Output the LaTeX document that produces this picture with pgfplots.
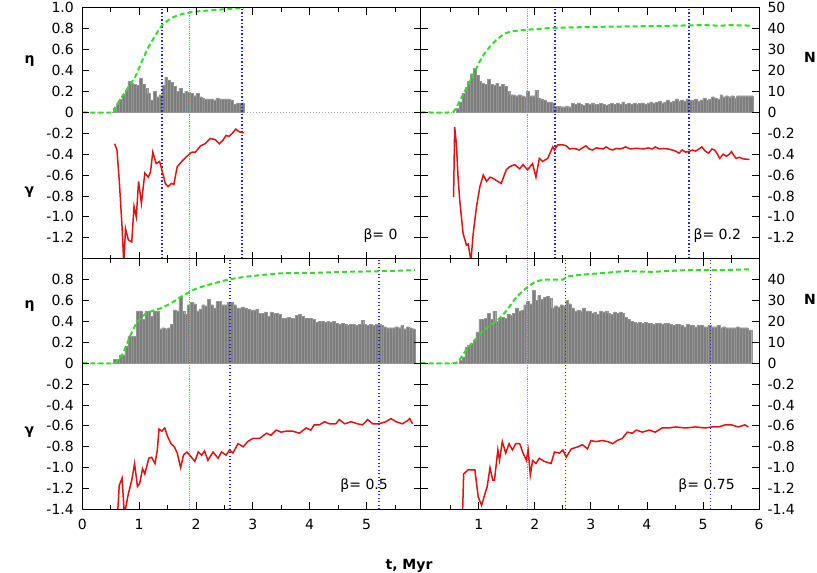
\documentclass[border=0pt]{standalone}
\usepackage{fontspec}
\setmainfont{DejaVu Sans}
\usepackage{pgfplots}
\pgfplotsset{compat=1.18}
\definecolor{cgreen}{RGB}{50,220,40}
\definecolor{cred}{RGB}{220,20,20}
\definecolor{cblue}{RGB}{40,40,200}
\definecolor{cmag}{RGB}{225,110,225}
\definecolor{cbar}{RGB}{125,125,125}
\definecolor{cbarl}{RGB}{150,150,150}
\pgfplotsset{
  panel/.style={scale only axis, height=250.8pt, ymin=-1.4, ymax=1.0,
    axis on top, clip=true,
    axis line style={line width=1pt},
    every tick/.style={black, line width=0.8pt},
    tick align=inside, xtick pos=both, ytick pos=both,
    major tick length=7pt, minor tick length=4pt,
    minor xtick={0.5,1.5,2.5,3.5,4.5,5.5},
    ytick={-1.4,-1.2,-1,-0.8,-0.6,-0.4,-0.2,0,0.2,0.4,0.6,0.8,1},
    xticklabel style={yshift=-6pt},
  },
  leftp/.style={panel, width=338.2pt, xmin=0, xmax=5.95, xtick={0,1,2,3,4,5},
    yticklabel pos=left, yticklabel style={xshift=-5pt}},
  rightp/.style={panel, width=338.5pt, xmin=-0.04, xmax=6, xtick={1,2,3,4,5,6},
    yticklabel pos=right, yticklabel style={xshift=5pt}},
  zeroline/.style={color=gray!70, line width=0.8pt, dash pattern=on 1pt off 2pt},
  bars/.style={ybar interval, fill=cbar, draw=cbarl, line width=0.2pt},
  vblue/.style={color=cblue, line width=1.3pt, dash pattern=on 1.3pt off 2.2pt},
  vmag/.style={color=cmag, line width=1.2pt, dash pattern=on 1.2pt off 1pt},
  gline/.style={color=cgreen, line width=2pt, dash pattern=on 5pt off 3pt, smooth, tension=0.4},
  rline/.style={color=cred, line width=1.5pt},
}
\begin{document}
\begin{tikzpicture}[font=\fontsize{14}{17}\selectfont]
\useasboundingbox (0,0) rectangle (817pt,573pt);

% ---------- top left, beta = 0
\begin{axis}[leftp, at={(82.3pt,314.3pt)}, anchor=south west,
  xticklabels={},
  yticklabels={{},-1.2,-1.0,-0.8,-0.6,-0.4,-0.2,0,0.2,0.4,0.6,0.8,1.0}]
\addplot[zeroline] coordinates {(0,0)(6,0)};
\addplot[bars] coordinates {(0.55,0.04)(0.60,0.08)(0.65,0.13)(0.70,0.17)(0.75,0.21)(0.80,0.30)(0.85,0.28)(0.90,0.27)(0.95,0.26)(1.00,0.33)(1.05,0.27)(1.10,0.23)(1.15,0.18)(1.20,0.12)(1.25,0.20)(1.30,0.15)(1.35,0.17)(1.40,0.26)(1.45,0.34)(1.50,0.31)(1.55,0.29)(1.60,0.25)(1.65,0.20)(1.70,0.23)(1.75,0.18)(1.80,0.20)(1.85,0.19)(1.90,0.18)(1.95,0.16)(2.00,0.18)(2.05,0.15)(2.10,0.14)(2.15,0.13)(2.20,0.13)(2.25,0.13)(2.30,0.12)(2.35,0.14)(2.40,0.13)(2.45,0.13)(2.50,0.13)(2.55,0.13)(2.60,0.12)(2.65,0.08)(2.70,0.09)(2.75,0.09)(2.80,0.09)(2.85,0)};
\addplot[vmag] coordinates {(1.89,-1.4)(1.89,1.0)};
\addplot[vblue] coordinates {(1.40,-1.4)(1.40,1.0)};
\addplot[vblue] coordinates {(2.81,-1.4)(2.81,1.0)};
\addplot[gline] coordinates {(0,0)(0.53,0)(0.58,0.05)(0.70,0.15)(0.82,0.25)(0.94,0.35)(1.05,0.49)(1.17,0.63)(1.29,0.74)(1.40,0.83)(1.52,0.885)(1.64,0.92)(1.75,0.94)(1.93,0.96)(2.10,0.97)(2.34,0.98)(2.57,0.99)(2.84,1.0)};
\addplot[rline] coordinates {(0.57,-0.30)(0.61,-0.36)(0.65,-0.65)(0.70,-1.10)(0.73,-1.45)(0.76,-1.11)(0.81,-1.22)(0.87,-1.24)(0.91,-0.90)(0.95,-1.00)(0.99,-0.66)(1.04,-0.87)(1.10,-0.58)(1.16,-0.62)(1.20,-0.57)(1.24,-0.38)(1.30,-0.49)(1.36,-0.47)(1.40,-0.55)(1.46,-0.68)(1.51,-0.71)(1.57,-0.68)(1.61,-0.69)(1.67,-0.52)(1.75,-0.47)(1.84,-0.42)(1.93,-0.38)(1.99,-0.38)(2.08,-0.32)(2.16,-0.30)(2.25,-0.25)(2.34,-0.26)(2.41,-0.30)(2.47,-0.27)(2.53,-0.22)(2.58,-0.23)(2.64,-0.20)(2.70,-0.16)(2.76,-0.185)(2.84,-0.195)};
\node[anchor=base west] at (axis cs:4.886,-1.212) {β= 0};
\end{axis}

% ---------- top right, beta = 0.2
\begin{axis}[rightp, at={(420.5pt,314.3pt)}, anchor=south west,
  xticklabels={},
  yticklabels={{},-1.2,-1.0,-0.8,-0.6,-0.4,-0.2,0,10,20,30,40,50}]
\addplot[zeroline] coordinates {(-0.04,0)(6,0)};
\addplot[bars] coordinates {(0.60,0.04)(0.65,0.10)(0.70,0.18)(0.75,0.24)(0.80,0.30)(0.85,0.37)(0.90,0.42)(0.95,0.36)(1.00,0.30)(1.05,0.28)(1.10,0.27)(1.15,0.32)(1.20,0.27)(1.25,0.26)(1.30,0.28)(1.35,0.25)(1.40,0.27)(1.45,0.25)(1.50,0.20)(1.55,0.17)(1.60,0.17)(1.65,0.16)(1.70,0.17)(1.75,0.16)(1.80,0.15)(1.85,0.20)(1.90,0.16)(1.95,0.16)(2.00,0.21)(2.05,0.14)(2.10,0.13)(2.15,0.12)(2.20,0.10)(2.25,0.10)(2.30,0.09)(2.35,0.06)(2.40,0.06)(2.45,0.055)(2.50,0.055)(2.55,0.06)(2.60,0.055)(2.65,0.085)(2.70,0.08)(2.75,0.09)(2.80,0.08)(2.85,0.07)(2.90,0.085)(2.95,0.08)(3.00,0.09)(3.05,0.075)(3.10,0.08)(3.15,0.085)(3.20,0.08)(3.25,0.07)(3.30,0.08)(3.35,0.085)(3.40,0.08)(3.45,0.09)(3.50,0.08)(3.55,0.10)(3.60,0.08)(3.65,0.085)(3.70,0.08)(3.75,0.09)(3.80,0.08)(3.85,0.085)(3.90,0.09)(3.95,0.08)(4.00,0.09)(4.05,0.10)(4.10,0.09)(4.15,0.10)(4.20,0.11)(4.25,0.09)(4.30,0.10)(4.35,0.12)(4.40,0.10)(4.45,0.11)(4.50,0.13)(4.55,0.11)(4.60,0.12)(4.65,0.11)(4.70,0.13)(4.75,0.12)(4.80,0.12)(4.85,0.13)(4.90,0.11)(4.95,0.12)(5.00,0.14)(5.05,0.12)(5.10,0.13)(5.15,0.15)(5.20,0.14)(5.25,0.13)(5.30,0.17)(5.35,0.15)(5.40,0.16)(5.45,0.15)(5.50,0.16)(5.55,0.14)(5.60,0.16)(5.65,0.16)(5.70,0.16)(5.75,0.16)(5.80,0.16)(5.89,0)};
\addplot[vmag] coordinates {(1.875,-1.4)(1.875,1.0)};
\addplot[vblue] coordinates {(2.36,-1.4)(2.36,1.0)};
\addplot[vblue] coordinates {(4.75,-1.4)(4.75,1.0)};
\addplot[gline] coordinates {(-0.04,0)(0.50,0)(0.58,0.03)(0.65,0.10)(0.75,0.20)(0.90,0.36)(1.05,0.52)(1.20,0.63)(1.35,0.71)(1.49,0.76)(1.65,0.78)(1.85,0.79)(2.10,0.80)(2.40,0.81)(3.27,0.82)(4.00,0.825)(4.50,0.83)(5.00,0.835)(5.30,0.83)(5.50,0.835)(5.87,0.83)};
\addplot[rline] coordinates {(0.55,-0.81)(0.57,-0.14)(0.60,-0.30)(0.63,-0.62)(0.66,-0.84)(0.72,-1.16)(0.78,-1.27)(0.81,-1.26)(0.86,-1.42)(0.90,-1.16)(0.96,-0.90)(1.02,-0.71)(1.08,-0.60)(1.14,-0.66)(1.20,-0.62)(1.25,-0.63)(1.31,-0.65)(1.40,-0.68)(1.49,-0.55)(1.55,-0.52)(1.64,-0.50)(1.73,-0.54)(1.79,-0.50)(1.87,-0.55)(1.96,-0.49)(2.02,-0.62)(2.08,-0.44)(2.14,-0.47)(2.23,-0.44)(2.32,-0.33)(2.35,-0.36)(2.41,-0.31)(2.50,-0.31)(2.56,-0.32)(2.62,-0.35)(2.68,-0.345)(2.74,-0.35)(2.79,-0.36)(2.85,-0.34)(2.91,-0.32)(2.97,-0.35)(3.03,-0.36)(3.10,-0.34)(3.16,-0.345)(3.22,-0.35)(3.27,-0.33)(3.33,-0.35)(3.39,-0.36)(3.45,-0.345)(3.52,-0.35)(3.58,-0.34)(3.62,-0.33)(3.70,-0.35)(3.78,-0.345)(3.86,-0.345)(3.94,-0.35)(4.02,-0.34)(4.10,-0.35)(4.15,-0.33)(4.22,-0.35)(4.30,-0.345)(4.38,-0.35)(4.45,-0.36)(4.51,-0.37)(4.57,-0.39)(4.63,-0.36)(4.69,-0.38)(4.75,-0.375)(4.81,-0.36)(4.87,-0.37)(4.93,-0.35)(4.98,-0.33)(5.04,-0.37)(5.10,-0.39)(5.16,-0.35)(5.21,-0.36)(5.26,-0.40)(5.30,-0.44)(5.36,-0.40)(5.42,-0.42)(5.47,-0.40)(5.51,-0.375)(5.55,-0.41)(5.59,-0.44)(5.65,-0.43)(5.72,-0.445)(5.83,-0.45)};
\node[anchor=base west] at (axis cs:4.77,-1.212) {β= 0.2};
\end{axis}

% ---------- bottom left, beta = 0.5
\begin{axis}[leftp, at={(82.3pt,63.5pt)}, anchor=south west,
  xticklabels={0,1,2,3,4,5},
  yticklabels={-1.4,-1.2,-1.0,-0.8,-0.6,-0.4,-0.2,0,0.2,0.4,0.6,0.8,{}}]
\addplot[zeroline] coordinates {(0,0)(6,0)};
\addplot[bars] coordinates {(0.55,0.035)(0.60,0.035)(0.65,0.08)(0.70,0.08)(0.75,0.16)(0.80,0.26)(0.85,0.26)(0.90,0.26)(0.95,0.50)(1.00,0.50)(1.05,0.42)(1.10,0.50)(1.15,0.50)(1.20,0.45)(1.25,0.50)(1.30,0.50)(1.35,0.33)(1.40,0.34)(1.45,0.33)(1.50,0.34)(1.55,0.37)(1.60,0.51)(1.65,0.50)(1.70,0.63)(1.75,0.50)(1.80,0.47)(1.85,0.56)(1.90,0.58)(1.95,0.57)(2.00,0.50)(2.05,0.52)(2.10,0.56)(2.15,0.55)(2.20,0.61)(2.25,0.56)(2.30,0.53)(2.35,0.59)(2.40,0.59)(2.45,0.56)(2.50,0.56)(2.55,0.58)(2.60,0.58)(2.65,0.56)(2.70,0.53)(2.75,0.53)(2.80,0.54)(2.85,0.53)(2.90,0.52)(2.95,0.51)(3.00,0.51)(3.05,0.52)(3.10,0.48)(3.15,0.48)(3.20,0.49)(3.25,0.45)(3.30,0.49)(3.35,0.48)(3.40,0.48)(3.45,0.47)(3.50,0.43)(3.55,0.43)(3.60,0.44)(3.65,0.43)(3.70,0.43)(3.75,0.46)(3.80,0.47)(3.85,0.45)(3.90,0.43)(3.95,0.43)(4.00,0.43)(4.05,0.42)(4.10,0.39)(4.15,0.40)(4.20,0.40)(4.25,0.39)(4.30,0.40)(4.35,0.39)(4.40,0.40)(4.45,0.38)(4.50,0.37)(4.55,0.38)(4.60,0.37)(4.65,0.36)(4.70,0.37)(4.75,0.37)(4.80,0.36)(4.85,0.37)(4.90,0.41)(4.95,0.37)(5.00,0.36)(5.05,0.37)(5.10,0.36)(5.15,0.37)(5.20,0.37)(5.25,0.36)(5.30,0.35)(5.35,0.34)(5.40,0.34)(5.45,0.34)(5.50,0.35)(5.55,0.34)(5.60,0.36)(5.65,0.33)(5.70,0.35)(5.75,0.34)(5.80,0.33)(5.85,0)};
\addplot[vmag] coordinates {(1.89,-1.4)(1.89,1.0)};
\addplot[vblue] coordinates {(2.60,-1.4)(2.60,1.0)};
\addplot[vblue] coordinates {(5.22,-1.4)(5.22,1.0)};
\addplot[gline] coordinates {(0,0)(0.55,0)(0.62,0.03)(0.70,0.08)(0.76,0.15)(0.85,0.27)(0.94,0.37)(1.02,0.43)(1.11,0.47)(1.23,0.50)(1.40,0.53)(1.58,0.58)(1.75,0.64)(1.99,0.71)(2.22,0.75)(2.57,0.80)(2.92,0.83)(3.50,0.86)(4.10,0.865)(4.68,0.875)(5.26,0.88)(5.85,0.89)};
\addplot[rline] coordinates {(0.62,-1.45)(0.65,-1.17)(0.70,-1.10)(0.74,-1.45)(0.81,-1.25)(0.87,-1.12)(0.92,-0.96)(0.97,-1.18)(1.01,-1.15)(1.06,-1.01)(1.10,-1.06)(1.17,-0.91)(1.22,-0.90)(1.28,-0.96)(1.32,-0.83)(1.35,-0.63)(1.40,-0.65)(1.45,-0.62)(1.50,-0.70)(1.56,-0.77)(1.62,-0.80)(1.67,-0.86)(1.73,-1.00)(1.78,-0.88)(1.84,-0.85)(1.92,-0.90)(1.98,-0.94)(2.04,-0.85)(2.10,-0.88)(2.15,-0.84)(2.21,-0.93)(2.30,-0.85)(2.39,-0.91)(2.45,-0.85)(2.53,-0.88)(2.59,-0.83)(2.65,-0.86)(2.74,-0.77)(2.83,-0.80)(2.91,-0.75)(3.00,-0.72)(3.12,-0.72)(3.24,-0.67)(3.32,-0.69)(3.41,-0.64)(3.50,-0.66)(3.59,-0.65)(3.70,-0.65)(3.82,-0.67)(3.94,-0.62)(4.02,-0.64)(4.08,-0.59)(4.17,-0.59)(4.26,-0.56)(4.35,-0.58)(4.46,-0.58)(4.52,-0.54)(4.62,-0.58)(4.73,-0.56)(4.84,-0.58)(4.93,-0.59)(5.02,-0.54)(5.11,-0.58)(5.22,-0.58)(5.34,-0.56)(5.43,-0.53)(5.52,-0.56)(5.63,-0.58)(5.72,-0.55)(5.76,-0.53)(5.81,-0.58)};
\node[anchor=base west] at (axis cs:4.48,-1.211) {β= 0.5};
\end{axis}

% ---------- bottom right, beta = 0.75
\begin{axis}[rightp, at={(420.5pt,63.5pt)}, anchor=south west,
  xticklabels={1,2,3,4,5,6},
  yticklabels={-1.4,-1.2,-1.0,-0.8,-0.6,-0.4,-0.2,0,10,20,30,40,{}}]
\addplot[zeroline] coordinates {(-0.04,0)(6,0)};
\addplot[bars] coordinates {(0.65,0.03)(0.70,0.06)(0.75,0.15)(0.80,0.17)(0.85,0.19)(0.90,0.22)(0.95,0.30)(1.00,0.42)(1.05,0.42)(1.10,0.43)(1.15,0.48)(1.20,0.42)(1.25,0.50)(1.30,0.40)(1.35,0.43)(1.40,0.44)(1.45,0.43)(1.50,0.47)(1.55,0.46)(1.60,0.48)(1.65,0.53)(1.70,0.50)(1.75,0.51)(1.80,0.56)(1.85,0.59)(1.90,0.57)(1.95,0.70)(2.00,0.60)(2.05,0.65)(2.10,0.61)(2.15,0.63)(2.20,0.64)(2.25,0.62)(2.30,0.53)(2.35,0.55)(2.40,0.54)(2.45,0.56)(2.50,0.55)(2.55,0.60)(2.60,0.57)(2.65,0.53)(2.70,0.50)(2.75,0.51)(2.80,0.50)(2.85,0.53)(2.90,0.50)(2.95,0.50)(3.00,0.48)(3.05,0.49)(3.10,0.47)(3.15,0.50)(3.20,0.49)(3.25,0.50)(3.30,0.48)(3.35,0.47)(3.40,0.49)(3.45,0.48)(3.50,0.49)(3.55,0.48)(3.60,0.44)(3.65,0.42)(3.70,0.40)(3.75,0.39)(3.80,0.38)(3.85,0.39)(3.90,0.38)(3.95,0.39)(4.00,0.38)(4.05,0.38)(4.10,0.37)(4.15,0.38)(4.20,0.38)(4.25,0.37)(4.30,0.38)(4.35,0.38)(4.40,0.37)(4.45,0.36)(4.50,0.37)(4.55,0.37)(4.60,0.36)(4.65,0.35)(4.70,0.37)(4.75,0.36)(4.80,0.36)(4.85,0.35)(4.90,0.36)(4.95,0.36)(5.00,0.35)(5.05,0.35)(5.10,0.36)(5.15,0.35)(5.20,0.35)(5.25,0.36)(5.30,0.34)(5.35,0.35)(5.40,0.34)(5.45,0.34)(5.50,0.34)(5.55,0.34)(5.60,0.35)(5.65,0.34)(5.70,0.34)(5.75,0.34)(5.80,0.32)(5.87,0)};
\addplot[vmag] coordinates {(1.875,-1.4)(1.875,1.0)};
\addplot[vblue] coordinates {(2.55,-1.4)(2.55,1.0)};
\addplot[vblue] coordinates {(5.14,-1.4)(5.14,1.0)};
\addplot[gline] coordinates {(-0.04,0)(0.56,0)(0.66,0.035)(0.78,0.13)(0.96,0.24)(1.14,0.34)(1.31,0.40)(1.49,0.50)(1.67,0.63)(1.85,0.72)(2.02,0.78)(2.20,0.80)(2.50,0.80)(2.59,0.83)(2.91,0.85)(3.27,0.865)(3.62,0.88)(4.10,0.875)(4.69,0.89)(5.28,0.89)(5.87,0.90)};
\addplot[rline] coordinates {(0.71,-1.45)(0.73,-1.06)(0.81,-1.02)(0.93,-1.02)(0.99,-1.28)(1.05,-1.36)(1.11,-1.25)(1.15,-1.18)(1.20,-1.00)(1.25,-1.12)(1.28,-1.12)(1.34,-0.83)(1.37,-0.93)(1.42,-0.75)(1.48,-0.86)(1.54,-0.77)(1.60,-0.83)(1.66,-0.77)(1.73,-0.77)(1.79,-0.86)(1.85,-0.93)(1.88,-0.83)(1.92,-1.07)(1.96,-0.93)(2.02,-0.96)(2.08,-0.91)(2.17,-0.94)(2.29,-0.96)(2.35,-0.85)(2.44,-0.86)(2.50,-0.83)(2.56,-0.90)(2.65,-0.82)(2.77,-0.80)(2.85,-0.78)(2.94,-0.82)(3.00,-0.74)(3.09,-0.75)(3.21,-0.74)(3.30,-0.75)(3.39,-0.77)(3.47,-0.74)(3.56,-0.72)(3.65,-0.66)(3.74,-0.67)(3.81,-0.64)(3.92,-0.66)(4.04,-0.64)(4.15,-0.66)(4.27,-0.62)(4.39,-0.62)(4.51,-0.61)(4.69,-0.62)(4.87,-0.61)(5.04,-0.62)(5.16,-0.61)(5.28,-0.61)(5.40,-0.59)(5.51,-0.59)(5.63,-0.61)(5.75,-0.59)(5.81,-0.61)};
\node[anchor=base west] at (axis cs:4.50,-1.211) {β= 0.75};
\end{axis}

% ---------- axis labels
\node[font=\fontsize{14}{17}\selectfont\bfseries] at (29.5pt,512pt) {η};
\node[font=\fontsize{14}{17}\selectfont\bfseries] at (29.5pt,381pt) {γ};
\node[font=\fontsize{14}{17}\selectfont\bfseries] at (29.5pt,267pt) {η};
\node[font=\fontsize{14}{17}\selectfont\bfseries] at (29.5pt,141pt) {γ};
\node[font=\fontsize{14}{17}\selectfont\bfseries, anchor=west, inner sep=0pt] at (804pt,516pt) {N};
\node[font=\fontsize{14}{17}\selectfont\bfseries, anchor=west, inner sep=0pt] at (804pt,274pt) {N};
\node[font=\fontsize{14}{17}\selectfont\bfseries, anchor=base] at (409pt,3pt) {t, Myr};
\end{tikzpicture}
\end{document}
